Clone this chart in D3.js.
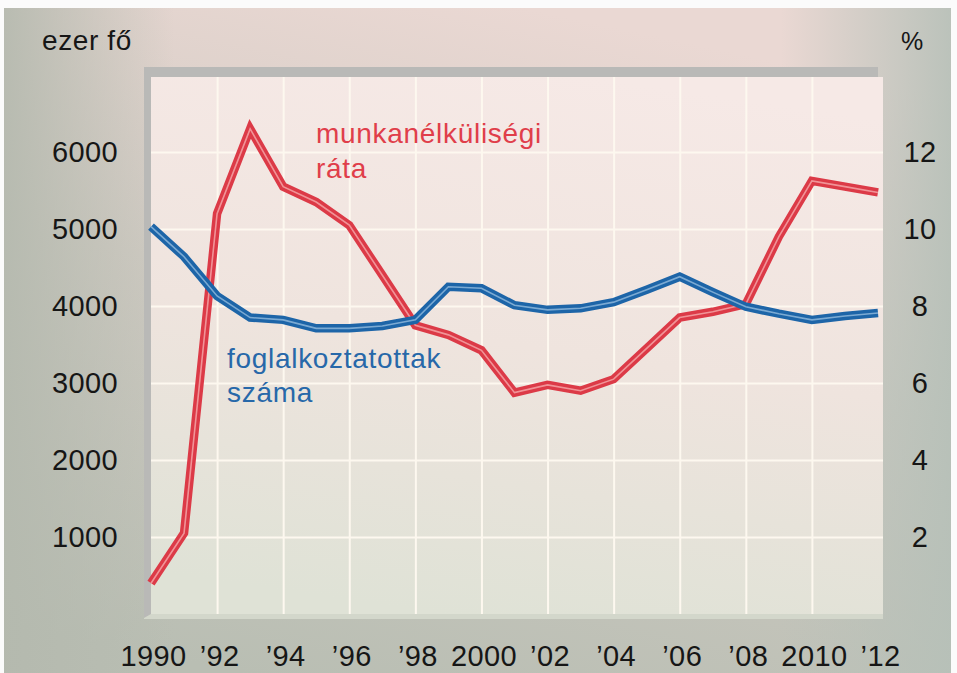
<!DOCTYPE html>
<html>
<head>
<meta charset="utf-8">
<script src="https://cdn.jsdelivr.net/npm/d3@7"></script>
<style>
  html, body { margin: 0; padding: 0; background: #fff; }
  svg { display: block; font-family: "Liberation Sans", Arial, sans-serif; }
  .axis text { fill: #161616; font-size: 29px; letter-spacing: 0.4px; }
  .axis path, .axis line { display: none; }
  .grid line { stroke: #fdf8ef; stroke-width: 2px; }
  .grid path { display: none; }
  .note { font-size: 28px; letter-spacing: 0.7px; }
</style>
</head>
<body>
<svg id="chart" width="957" height="673"></svg>
<script>

// data
var years = [1990, 1991, 1992, 1993, 1994, 1995, 1996, 1997, 1998, 1999, 2000, 2001,
             2002, 2003, 2004, 2005, 2006, 2007, 2008, 2009, 2010, 2011, 2012];
// employed, thousand persons (left axis)
var employed = [5030, 4640, 4130, 3850, 3820, 3710, 3710, 3740, 3820, 4250, 4230, 4010,
                3950, 3970, 4050, 4210, 4380, 4180, 3990, 3900, 3820, 3870, 3910];
// unemployment rate, % (right axis)
var unemployment = [0.8, 2.1, 10.4, 12.6, 11.1, 10.7, 10.1, 8.8, 7.5, 7.25, 6.85, 5.75,
                    5.95, 5.8, 6.1, 6.9, 7.7, 7.85, 8.05, 9.8, 11.25, 11.1, 10.95];

var xTicks = [1990, 1992, 1994, 1996, 1998, 2000, 2002, 2004, 2006, 2008, 2010, 2012];
var xLabels = ['1990', '\u201992', '\u201994', '\u201996', '\u201998', '2000',
               '\u201902', '\u201904', '\u201906', '\u201908', '2010', '\u201912'];
var leftTicks = [1000, 2000, 3000, 4000, 5000, 6000];
var rightTicks = [2, 4, 6, 8, 10, 12];
var gridYears = [1992, 1994, 1996, 1998, 2000, 2002, 2004, 2006, 2008, 2010];

var svg = d3.select('#chart');
var W = 957, H = 673;
var plot = {left: 151, right: 883, top: 77, bottom: 614};

var defs = svg.append('defs');

// page background: pinkish at the top, grey-green lower down
var bg = defs.append('linearGradient').attr('id', 'bg')
  .attr('x1', 0.55).attr('y1', 0).attr('x2', 0.25).attr('y2', 1);
bg.append('stop').attr('offset', 0).attr('stop-color', '#ead8d3');
bg.append('stop').attr('offset', 0.45).attr('stop-color', '#cfcac2');
bg.append('stop').attr('offset', 1).attr('stop-color', '#b9beb3');

var bgSide = defs.append('linearGradient').attr('id', 'bgSide')
  .attr('x1', 0).attr('y1', 0).attr('x2', 1).attr('y2', 0);
bgSide.append('stop').attr('offset', 0).attr('stop-color', '#b4b9ae').attr('stop-opacity', 0.9);
bgSide.append('stop').attr('offset', 0.18).attr('stop-color', '#b4b9ae').attr('stop-opacity', 0);
bgSide.append('stop').attr('offset', 0.82).attr('stop-color', '#b6c0b8').attr('stop-opacity', 0);
bgSide.append('stop').attr('offset', 1).attr('stop-color', '#b6c0b8').attr('stop-opacity', 0.9);

var pg = defs.append('linearGradient').attr('id', 'plotBg')
  .attr('x1', 0.6).attr('y1', 0).attr('x2', 0.4).attr('y2', 1);
pg.append('stop').attr('offset', 0).attr('stop-color', '#f6e9e6');
pg.append('stop').attr('offset', 0.5).attr('stop-color', '#efe4de');
pg.append('stop').attr('offset', 1).attr('stop-color', '#dfe2d6');

svg.append('rect').attr('width', W).attr('height', H).attr('fill', '#fbfbfb');
svg.append('rect').attr('x', 4).attr('y', 8).attr('width', W - 10).attr('height', H - 8)
  .attr('fill', 'url(#bg)');
svg.append('rect').attr('x', 4).attr('y', 8).attr('width', W - 10).attr('height', H - 8)
  .attr('fill', 'url(#bgSide)');

// bevel: shadow on top and left, light strip below
svg.append('polygon')
  .attr('points', [[plot.left - 7, plot.top - 10], [plot.right - 5, plot.top - 10],
                   [plot.right - 5, plot.top], [plot.left, plot.top],
                   [plot.left, plot.bottom], [plot.left - 7, plot.bottom + 4]].join(' '))
  .attr('fill', '#b9b9b7');
svg.append('polygon')
  .attr('points', [[plot.left - 7, plot.bottom + 4], [plot.left, plot.bottom],
                   [plot.right, plot.bottom], [plot.right, plot.bottom + 5],
                   [plot.left - 7, plot.bottom + 5]].join(' '))
  .attr('fill', '#d3d7cb');

svg.append('rect')
  .attr('x', plot.left).attr('y', plot.top)
  .attr('width', plot.right - plot.left).attr('height', plot.bottom - plot.top)
  .attr('fill', 'url(#plotBg)');

// scales
var x = d3.scaleLinear().domain([1990, 2012]).range([151, 878]);
var yLeft = d3.scaleLinear().domain([0, 7000]).range([plot.bottom, plot.bottom - 7 * 77]);
var yRight = d3.scaleLinear().domain([0, 14]).range([plot.bottom, plot.bottom - 7 * 77]);

// grid
svg.append('g').attr('class', 'grid')
  .attr('transform', 'translate(' + plot.left + ',0)')
  .call(d3.axisLeft(yLeft).tickValues(leftTicks)
    .tickSize(-(plot.right - plot.left)).tickFormat(''));
svg.append('g').attr('class', 'grid')
  .attr('transform', 'translate(0,' + plot.bottom + ')')
  .call(d3.axisBottom(x).tickValues(gridYears)
    .tickSize(-(plot.bottom - plot.top)).tickFormat(''));

// axes
svg.append('g').attr('class', 'axis')
  .attr('transform', 'translate(120,0)')
  .call(d3.axisLeft(yLeft).tickValues(leftTicks).tickSize(0).tickPadding(2)
    .tickFormat(d3.format('d')));

var right = svg.append('g').attr('class', 'axis')
  .attr('transform', 'translate(920,0)')
  .call(d3.axisRight(yRight).tickValues(rightTicks).tickSize(0).tickPadding(0));
right.selectAll('text').attr('text-anchor', 'middle').attr('x', 0);

svg.append('g').attr('class', 'axis')
  .attr('transform', 'translate(2,645)')
  .call(d3.axisBottom(x).tickValues(xTicks).tickSize(0).tickPadding(0)
    .tickFormat(function (d, i) { return xLabels[i]; }));

// unit labels
svg.append('text').attr('x', 42).attr('y', 50).attr('letter-spacing', 0.6)
  .attr('font-size', 28).attr('fill', '#161616').text('ezer fő');
svg.append('text').attr('x', 912).attr('y', 50).attr('text-anchor', 'middle')
  .attr('font-size', 25).attr('fill', '#161616').text('%');

// lines: coloured band with a pale stripe through the middle
function drawLine(values, yScale, outer, inner) {
  var line = d3.line()
    .x(function (d, i) { return x(years[i]); })
    .y(function (d) { return yScale(d); });
  var g = svg.append('g');
  g.append('path').datum(values).attr('d', line)
    .attr('fill', 'none').attr('stroke', outer).attr('stroke-width', 8.5)
    .attr('stroke-linejoin', 'miter');
  g.append('path').datum(values).attr('d', line)
    .attr('fill', 'none').attr('stroke', inner).attr('stroke-width', 1.6)
    .attr('stroke-linejoin', 'miter').attr('opacity', 0.85);
}

drawLine(unemployment, yRight, '#dc3a47', '#f4a3a6');
drawLine(employed, yLeft, '#1d65a8', '#8cb6da');

// annotations
var red = svg.append('text').attr('class', 'note').attr('fill', '#e03e4a');
red.append('tspan').attr('x', 316).attr('y', 143).text('munkanélküliségi');
red.append('tspan').attr('x', 316).attr('y', 178).text('ráta');

var blue = svg.append('text').attr('class', 'note').attr('fill', '#2768a9');
blue.append('tspan').attr('x', 227).attr('y', 368).text('foglalkoztatottak');
blue.append('tspan').attr('x', 227).attr('y', 402).text('száma');

</script>
</body>
</html>
